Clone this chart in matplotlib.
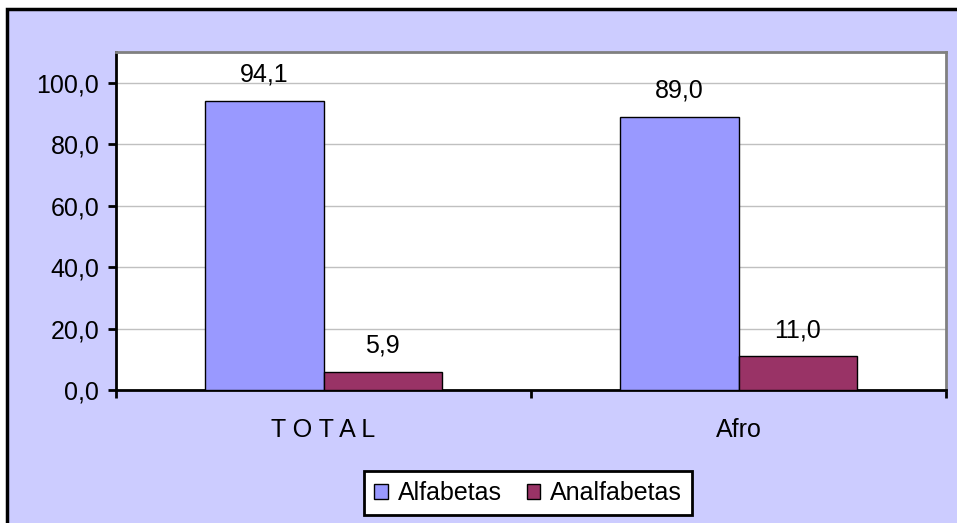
import matplotlib
matplotlib.use("Agg")
import matplotlib.pyplot as plt
from matplotlib.patches import Rectangle
import numpy as np

plt.rcParams['font.family'] = ['Liberation Sans', 'DejaVu Sans']

# ===== data =====
categorias = ["T O T A L", "Afro"]
alfabetas = [94.1, 89.0]
analfabetas = [5.9, 11.0]
series = ["Alfabetas", "Analfabetas"]
yticks = [0, 20, 40, 60, 80, 100]

FS = 18
W = 0.285

fig = plt.figure(figsize=(9.57, 5.23), dpi=100, facecolor="white")

# lavender chart area with black frame
fig.patches.append(Rectangle((7.5 / 957, -0.1), 1.2, 1 - 9.5 / 523 + 0.1,
                             transform=fig.transFigure, facecolor="#CCCCFF",
                             edgecolor="black", linewidth=2.5, zorder=-10))

ax = fig.add_axes([116 / 957, 1 - 390 / 523, (946 - 116) / 957, (390 - 52) / 523])
ax.set_facecolor("white")

x = np.arange(len(categorias))
b1 = ax.bar(x - W / 2, alfabetas, W, color="#9999FF", edgecolor="black",
            linewidth=1, label=series[0], zorder=3)
b2 = ax.bar(x + W / 2, analfabetas, W, color="#993366", edgecolor="black",
            linewidth=1, label=series[1], zorder=3)

for bars, vals in ((b1, alfabetas), (b2, analfabetas)):
    for r, v in zip(bars, vals):
        ax.annotate(f"{v:.1f}".replace(".", ","),
                    (r.get_x() + r.get_width() / 2, v),
                    xytext=(0, 10), textcoords="offset points",
                    ha="center", va="bottom", fontsize=FS)

ax.set_xlim(-0.5, 1.5)
ax.set_ylim(0, 110)
ax.set_yticks(yticks)
ax.set_yticklabels([f"{t:.1f}".replace(".", ",") for t in yticks], fontsize=FS)
ax.yaxis.grid(True, color="#C0C0C0", linewidth=1, zorder=0)
ax.set_axisbelow(True)

ax.set_xticks(x)
ax.set_xticklabels(categorias, fontsize=FS)
ax.set_xticks([-0.5, 0.5, 1.5], minor=True)
ax.tick_params(axis="x", which="major", length=0, pad=20)
ax.tick_params(axis="x", which="minor", length=6, width=2, direction="out")
ax.tick_params(axis="y", length=6, width=2, direction="out", pad=6)

for s in ("left", "bottom"):
    ax.spines[s].set_color("black")
    ax.spines[s].set_linewidth(2)
for s in ("top", "right"):
    ax.spines[s].set_color("#808080")
    ax.spines[s].set_linewidth(2)

leg = fig.legend(loc="center", bbox_to_anchor=(528 / 957, 1 - 493 / 523),
                 ncol=2, fontsize=FS, frameon=True, fancybox=False,
                 framealpha=1, edgecolor="black", handlelength=0.55,
                 handleheight=0.55, handletextpad=0.4, columnspacing=1.0,
                 borderpad=0.4)
leg.get_frame().set_linewidth(2)
leg.get_frame().set_facecolor("white")

fig.savefig("out.png", dpi=100, facecolor=fig.get_facecolor())
